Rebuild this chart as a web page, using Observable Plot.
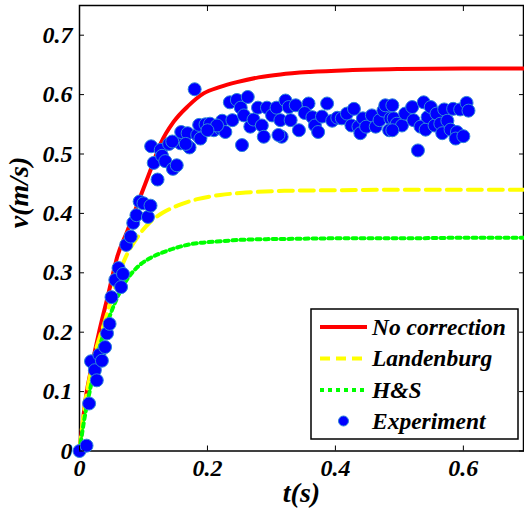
<!DOCTYPE html>
<html><head><meta charset="utf-8">
<script src="https://cdn.jsdelivr.net/npm/d3@7"></script>
<script src="https://cdn.jsdelivr.net/npm/@observablehq/plot@0.6"></script>
<style>
body{margin:0;background:#fff;}
#wrap{position:relative;width:524px;height:518px;}
#legend{position:absolute;left:0;top:0;}
</style></head><body><div id="wrap"></div>
<script>
// Model curves
const redT = [0,0.01,0.02,0.031,0.045,0.059,0.075,0.095,0.11,0.127,0.147,0.17,0.194,0.22,0.246,0.28,0.314,0.36,0.42,0.5,0.6,0.694];
const redV = [0,0.091,0.147,0.202,0.264,0.327,0.371,0.428,0.47,0.518,0.554,0.581,0.602,0.613,0.621,0.629,0.634,0.638,0.641,0.643,0.644,0.644];
const yelT = [0,0.005,0.02,0.041,0.06,0.072,0.09,0.111,0.13,0.153,0.184,0.22,0.26,0.32,0.4,0.5,0.6,0.694];
const yelV = [0,0.05,0.145,0.223,0.293,0.326,0.359,0.386,0.401,0.413,0.424,0.431,0.435,0.438,0.439,0.44,0.44,0.44];
const grnT = [0,0.007,0.018,0.031,0.044,0.054,0.072,0.093,0.111,0.137,0.173,0.22,0.262,0.32,0.4,0.5,0.6,0.694];
const grnV = [0,0.05,0.111,0.173,0.217,0.246,0.285,0.312,0.325,0.337,0.348,0.353,0.356,0.357,0.358,0.358,0.359,0.359];
// Experiment
const expT = [0,0.011,0.015,0.018,0.024,0.027,0.031,0.035,0.040,0.043,0.047,0.050,0.056,0.065,0.061,0.068,
0.073,0.080,0.084,0.089,0.094,0.100,0.107,0.111,0.122,0.116,0.112,0.127,0.129,0.134,0.140,0.146,0.152,0.158,0.159,0.169,0.172,0.166,0.184,0.187,0.145,
0.180,0.189,0.197,0.204,0.210,0.220,0.223,0.239,0.228,0.235,0.246,0.252,0.263,0.257,0.267,0.272,0.279,0.254,0.285,0.293,0.288,0.301,0.308,0.314,0.215,0.200,
0.322,0.327,0.338,0.330,0.358,0.352,0.316,0.311,0.343,0.364,0.368,0.373,0.379,0.387,0.395,0.403,0.410,0.418,0.429,0.425,0.436,0.439,0.443,0.448,0.457,0.463,0.469,0.475,0.478,0.486,0.484,
0.489,0.491,0.496,0.504,0.489,0.509,0.520,0.522,0.533,0.538,0.541,0.544,0.549,0.555,0.558,0.564,0.567,0.570,0.575,0.580,0.584,0.590,0.588,0.595,0.605,0.608,0.600,0.529];
const expV = [0,0.009,0.080,0.151,0.136,0.119,0.162,0.152,0.175,0.198,0.214,0.259,0.288,0.276,0.308,0.298,
0.347,0.361,0.384,0.397,0.420,0.417,0.394,0.413,0.457,0.485,0.513,0.507,0.497,0.488,0.517,0.475,0.481,0.518,0.537,0.535,0.511,0.517,0.532,0.549,0.521,
0.609,0.526,0.550,0.551,0.540,0.543,0.556,0.557,0.537,0.587,0.591,0.578,0.596,0.565,0.546,0.558,0.578,0.515,0.548,0.578,0.529,0.565,0.578,0.557,0.548,0.540,
0.590,0.579,0.582,0.557,0.585,0.569,0.529,0.532,0.540,0.562,0.548,0.537,0.563,0.585,0.556,0.561,0.560,0.568,0.576,0.548,0.546,0.535,0.560,0.546,0.565,0.546,0.557,0.573,0.582,0.560,0.540,
0.582,0.560,0.551,0.548,0.540,0.568,0.579,0.557,0.546,0.587,0.541,0.562,0.579,0.548,0.568,0.551,0.535,0.575,0.556,0.541,0.576,0.537,0.526,0.575,0.586,0.573,0.530,0.506];
const xTicks = [0,0.2,0.4,0.6];
const xTickLabels = ["0","0.2","0.4","0.6"];
const yTicks = [0,0.1,0.2,0.3,0.4,0.5,0.6,0.7];
const yTickLabels = ["0","0.1","0.2","0.3","0.4","0.5","0.6","0.7"];
const seriesNames = ["No correction","Landenburg","H&S","Experiment"];
const seriesColors = ["#ff0000","#ffff00","#00ff00","#0000ff"];
const seriesDash = [null,"14,7","4,4",null];
const xLabel = "t(s)", yLabel = "v(m/s)";

const toRows = (T,V) => T.map((t,i)=>({t, v:V[i]}));
const lines = [toRows(redT,redV), toRows(yelT,yelV), toRows(grnT,grnV)];
const exp = toRows(expT, expV);

const FF = "Liberation Serif";
const font = {fontFamily:FF, fontWeight:"bold", fontStyle:"italic"};

const W = 524, H = 518;
const chart = Plot.plot({
  width: W, height: H,
  marginLeft: 79, marginRight: 1, marginTop: 5, marginBottom: 67.5,
  style: {background:"#fff"},
  x: {domain:[0,0.694]},
  y: {domain:[0,0.75]},
  marks: [
    Plot.frame({stroke:"#000", strokeWidth:1.5}),
    ...lines.map((d,i)=>Plot.line(d, {x:"t", y:"v", stroke:seriesColors[i], strokeWidth:4, strokeDasharray:seriesDash[i], curve:"monotone-x"})),
    Plot.dot(exp, {x:"t", y:"v", r:6.5, fill:seriesColors[3], stroke:"#2f86d8", strokeWidth:1}),
    // inward ticks
    Plot.axisY(yTicks, {anchor:"left", tickSize:5, dx:5, tickFormat:()=>"", label:null, stroke:"#000"}),
    Plot.axisY(yTicks, {anchor:"right", tickSize:5, dx:-5, tickFormat:()=>"", label:null, stroke:"#000"}),
    Plot.axisX(xTicks, {anchor:"bottom", tickSize:5, dy:-5, tickFormat:()=>"", label:null, stroke:"#000"}),
    Plot.axisX(xTicks, {anchor:"top", tickSize:5, dy:5, tickFormat:()=>"", label:null, stroke:"#000"}),
    // tick labels
    Plot.axisY(yTicks, {anchor:"left", tickSize:0, tickPadding:7, tickFormat:(d,i)=>yTickLabels[i], label:null, fontSize:24, fill:"#000", ...font}),
    Plot.axisX(xTicks, {anchor:"bottom", tickSize:0, tickPadding:8, tickFormat:(d,i)=>xTickLabels[i], label:null, fontSize:24, fill:"#000", ...font}),
    // axis titles
    Plot.text([xLabel], {frameAnchor:"bottom", dy:51, fontSize:28, fill:"#000", ...font}),
    Plot.text([yLabel], {frameAnchor:"left", dx:-60, rotate:-90, fontSize:28, fill:"#000", ...font})
  ]
});
const wrap = document.getElementById("wrap");
wrap.appendChild(chart);

// legend
const ns = "http://www.w3.org/2000/svg";
const lg = document.createElementNS(ns,"svg");
lg.setAttribute("id","legend");
lg.setAttribute("width",W); lg.setAttribute("height",H);
const box = {x:311, y:309, w:207, h:130};
const rect = document.createElementNS(ns,"rect");
Object.entries({x:box.x, y:box.y, width:box.w, height:box.h, fill:"#fff", stroke:"#000", "stroke-width":1.5}).forEach(([k,v])=>rect.setAttribute(k,v));
lg.appendChild(rect);
const rowsY = [327, 358.5, 390, 421];
seriesNames.forEach((name,i)=>{
  const y = rowsY[i];
  if (i < 3) {
    const l = document.createElementNS(ns,"line");
    const attrs = {x1:320, x2:367, y1:y, y2:y, stroke:seriesColors[i], "stroke-width":4};
    if (seriesDash[i]) attrs["stroke-dasharray"] = i===1 ? "10,6" : "4,4";
    Object.entries(attrs).forEach(([k,v])=>l.setAttribute(k,v));
    lg.appendChild(l);
  } else {
    const c = document.createElementNS(ns,"circle");
    Object.entries({cx:343.5, cy:y, r:5, fill:seriesColors[3], stroke:"#2f86d8", "stroke-width":1}).forEach(([k,v])=>c.setAttribute(k,v));
    lg.appendChild(c);
  }
  const t = document.createElementNS(ns,"text");
  Object.entries({x:372, y:y+7.5, "font-family":FF, "font-weight":"bold", "font-style":"italic", "font-size":23.5, fill:"#000"}).forEach(([k,v])=>t.setAttribute(k,v));
  t.textContent = name;
  lg.appendChild(t);
});
wrap.appendChild(lg);
</script></body></html>
